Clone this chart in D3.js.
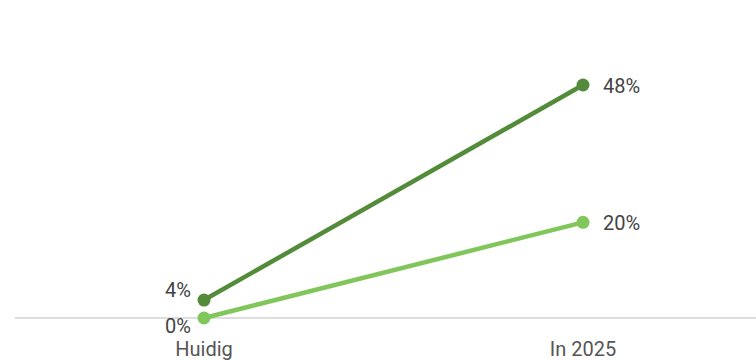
<!DOCTYPE html>
<html><head><meta charset="utf-8">
<script src="https://cdn.jsdelivr.net/npm/d3@7"></script>
<style>html,body{margin:0;padding:0;background:#fff;}svg{display:block;font-family:Roboto,"Noto Sans",sans-serif;}</style>
</head><body>
<svg id="chart" width="756" height="360"></svg>
<script>
const categories = ["Huidig", "In 2025"];
const seriesNames = ["Serie A", "Serie B"];
const seriesA = [3.7, 48];   // dark green
const seriesB = [0, 19.7];   // light green
const colors = ["#538b3a", "#80c65a"];

const svg = d3.select("#chart");
const x = d3.scalePoint().domain(categories).range([204, 583]);
const y = d3.scaleLinear().domain([0, 48]).range([318, 85]);

svg.append("line").attr("x1", 15).attr("x2", 756)
  .attr("y1", y(0)).attr("y2", y(0))
  .attr("stroke", "#d3d3d3").attr("stroke-width", 1.5);

const series = [
  {name: seriesNames[0], values: seriesA, color: colors[0]},
  {name: seriesNames[1], values: seriesB, color: colors[1]}
];

const line = d3.line().x((d, i) => x(categories[i])).y(d => y(d));

series.forEach(s => {
  svg.append("path").datum(s.values).attr("d", line)
    .attr("fill", "none").attr("stroke", s.color).attr("stroke-width", 4.5);
});
series.forEach(s => {
  svg.selectAll(null).data(s.values).enter().append("circle")
    .attr("cx", (d, i) => x(categories[i])).attr("cy", d => y(d))
    .attr("r", 6.5).attr("fill", s.color);
});

const fmt = v => Math.round(v) + "%";
series.forEach((s, si) => {
  s.values.forEach((v, i) => {
    const t = svg.append("text").text(fmt(v))
      .attr("font-size", 20).attr("fill", "#444");
    if (i === categories.length - 1) {
      t.attr("x", x(categories[i]) + 20).attr("y", y(v) + 8).attr("text-anchor", "start");
    } else {
      const above = si === 0;
      t.attr("x", x(categories[i]) - 13)
       .attr("y", above ? y(v) - 3 : y(v) + 15)
       .attr("text-anchor", "end");
    }
  });
});

svg.selectAll(null).data(categories).enter().append("text")
  .attr("x", d => x(d)).attr("y", 356).attr("text-anchor", "middle")
  .attr("font-size", 20).attr("fill", "#555").text(d => d);
</script>
</body></html>
